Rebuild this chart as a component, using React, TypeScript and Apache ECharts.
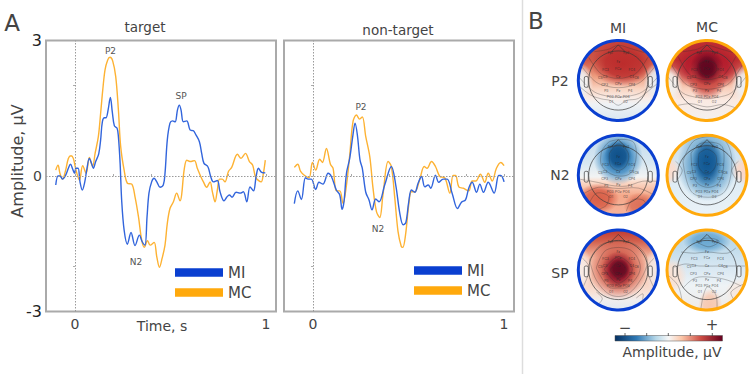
import React, { useEffect, useRef } from "react";
import * as echarts from "echarts";

const FONT = "DejaVu Sans";
const TINY_FONT = "Inter";

const targetMiTime = [-0.101,-0.089,-0.079,-0.065,-0.049,-0.035,-0.024,-0.012,-0.003,0.005,0.016,0.026,0.038,0.051,0.061,0.075,0.087,0.096,0.108,0.124,0.134,0.143,0.154,0.162,0.173,0.185,0.195,0.206,0.22,0.227,0.236,0.244,0.257,0.274,0.293,0.314,0.337,0.351,0.366,0.377,0.387,0.401,0.414,0.428,0.445,0.462,0.471,0.483,0.497,0.51,0.524,0.536,0.546,0.555,0.567,0.585,0.602,0.62,0.633,0.651,0.663,0.675,0.695,0.71,0.724,0.745,0.759,0.78,0.794,0.808,0.822,0.843,0.864,0.881,0.899,0.916,0.934,0.948,0.96,0.977,0.996];
const targetMiValues = [-0.2,0,0,-0.07,0.02,0.17,0.26,0.15,0.06,0.17,0.17,-0.13,-0.31,-0.13,0.13,0.39,0.27,0.17,0.32,0.49,0.8,1.2,1.29,1.29,1.46,1.74,1.42,1.11,1.06,0.87,0.28,-0.53,-1.2,-1.51,-1.25,-1.54,-1.31,-1.45,-1.53,-0.9,-0.38,-0.13,-0.05,-0.13,-0.25,-0.2,0.06,0.8,1.17,1.22,1.2,1.46,1.57,1.46,1.2,1.22,1.02,1,0.91,0.76,0.5,0.28,0.21,-0.01,-0.13,-0.1,-0.35,-0.55,-0.47,-0.42,-0.47,-0.36,-0.38,-0.35,-0.57,-0.24,-0.33,-0.01,0.17,0.08,0.07];
const targetMcTime = [-0.101,-0.089,-0.079,-0.066,-0.049,-0.035,-0.021,-0.009,0.005,0.023,0.04,0.058,0.075,0.092,0.105,0.122,0.134,0.145,0.157,0.171,0.183,0.197,0.213,0.227,0.239,0.257,0.274,0.297,0.314,0.332,0.349,0.363,0.379,0.393,0.414,0.428,0.442,0.456,0.471,0.483,0.497,0.515,0.532,0.55,0.558,0.571,0.585,0.602,0.625,0.64,0.658,0.672,0.689,0.707,0.719,0.733,0.745,0.756,0.77,0.785,0.803,0.82,0.85,0.869,0.892,0.913,0.93,0.946,0.974,0.986,0.996];
const targetMcValues = [0.13,0.24,0.06,-0.07,0.13,0.39,0.45,0.39,0.13,-0.09,0.23,0.06,0.41,0.21,0.5,0.87,1.39,1.9,2.35,2.57,2.63,2.55,2.2,1.46,0.65,0.13,-0.16,-0.18,-0.46,-0.9,-1.42,-1.58,-1.43,-1.53,-1.47,-1.79,-2.02,-1.82,-1.53,-1.05,-0.72,-0.57,-0.38,-0.55,-0.42,0.13,0.35,0.32,0.34,0.17,-0.01,-0.13,-0.25,-0.13,-0.35,-0.57,-0.31,-0.07,-0.07,-0.13,0.1,0.19,0.48,0.39,0.5,0.32,0.24,-0.03,-0.13,0.06,0.35];
const nonTargetMiTime = [-0.098,-0.08,-0.061,-0.04,-0.026,-0.009,0.014,0.031,0.052,0.079,0.096,0.122,0.14,0.152,0.162,0.175,0.192,0.209,0.22,0.232,0.246,0.258,0.276,0.293,0.309,0.328,0.346,0.375,0.41,0.433,0.454,0.472,0.486,0.501,0.515,0.533,0.55,0.568,0.585,0.603,0.616,0.641,0.658,0.681,0.702,0.728,0.756,0.777,0.798,0.815,0.833,0.856,0.873,0.892,0.917,0.948,0.972,0.983,1];
const nonTargetMiValues = [-0.61,-0.33,-0.52,-0.04,-0.07,-0.07,-0.3,-0.14,-0.18,0.06,-0.01,-0.31,-0.42,-0.74,-0.57,0.06,0.39,0.91,1.17,0.91,0.35,0.17,-0.36,-0.53,-0.75,-0.51,-0.57,-0.2,0.21,-0.2,-0.82,-1.08,-1.03,-0.57,-0.31,-0.36,-0.16,-0.01,-0.24,-0.2,-0.27,0.02,-0.14,-0.07,-0.07,-0.38,-0.72,-0.58,-0.53,-0.27,-0.14,-0.36,-0.18,-0.36,-0.14,-0.38,0.01,0.01,-0.13];
const nonTargetMcTime = [-0.098,-0.08,-0.065,-0.044,-0.021,-0.003,0.014,0.035,0.049,0.07,0.091,0.105,0.122,0.14,0.157,0.175,0.192,0.209,0.227,0.244,0.258,0.276,0.297,0.314,0.332,0.349,0.366,0.393,0.41,0.428,0.445,0.462,0.47,0.484,0.501,0.515,0.533,0.559,0.582,0.597,0.62,0.641,0.664,0.69,0.716,0.733,0.746,0.763,0.786,0.815,0.833,0.852,0.876,0.899,0.917,0.938,0.96,0.983,1];
const nonTargetMcValues = [0.19,0.26,0.1,0.01,-0.04,0.3,0.13,0.37,0.3,0.61,0.26,0.17,-0.33,-0.33,-0.61,-0.2,0.46,1.2,1.35,1.26,1.31,0.87,0.43,-0.27,-0.79,-0.92,-0.42,0.32,0.21,-0.49,-1.23,-1.56,-1.58,-1.31,-0.64,-0.35,-0.35,-0.07,0.21,0.17,0.32,0.21,-0.01,-0.04,-0.38,0.01,0.01,-0.24,-0.27,-0.33,-0.11,-0.11,0.04,-0.14,0.06,-0.11,0.17,0.3,0.23];

const xTicks = [0, 0.2, 0.4, 0.6, 0.8, 1];
const xLabels = [0, 1];
const legendNames = ["MI", "MC"];
const MI_LINE = "#3265dc";
const MC_LINE = "#fdb233";
const MI_SWATCH = "#0a3fd0";
const MC_SWATCH = "#ffa90c";

const pairs = (t: number[], v: number[]) => t.map((x, i) => [x, v[i]]);

// Electrode labels on a unit head
const electrodes: [string, number, number][] = [
  ["Fp1",-0.2,-0.7],["Fp2",0.2,-0.7],["Fz",0,-0.46],["FC3",-0.32,-0.27],["FCz",0,-0.29],["FC4",0.34,-0.27],
  ["C5",-0.45,-0.07],["C3",-0.33,-0.09],["Cz",0,-0.09],["C4",0.34,-0.09],["C6",0.46,-0.07],
  ["CP3",-0.34,0.1],["CPz",0,0.09],["CP4",0.34,0.1],["P3",-0.3,0.27],["Pz",0,0.25],["P4",0.3,0.27],
  ["PO3",-0.2,0.41],["POz",0,0.41],["PO4",0.2,0.41],["O1",-0.18,0.54],["O2",0.18,0.54],
];

type Blob = [number, number, number, number, string];
interface TopoMap {
  cx: number; cy: number; ring: string;
  base: [number, string][];
  blobs: Blob[];
  contours: [number, number][][];
}

const vShape = (y: number, w: number, yEnd: number): [number, number][] => [
  [-w, yEnd], [-w * 0.62, y - 0.14], [-w * 0.28, y - 0.03], [0, y], [w * 0.28, y - 0.03], [w * 0.62, y - 0.14], [w, yEnd],
];

const topoMaps: TopoMap[] = [
  { cx: 618.3, cy: 80.5, ring: "#0a3fd0",
    base: [[0,"#c5443a"],[0.25,"#cf5747"],[0.45,"#ee9d7f"],[0.6,"#f9d3c0"],[0.72,"#f9ece6"],[0.8,"#eef2f5"],[1,"#d8e6f1"]],
    blobs: [[0.12,-0.42,0.8,0.58,"#bc2c2c"],[-0.98,0.05,0.36,0.5,"#eef2f5"],[0.98,0.05,0.36,0.5,"#e6eef4"]],
    contours: [vShape(-0.05,0.74,-0.58),vShape(0.18,0.9,-0.33),vShape(0.42,0.98,-0.08),
      [[-1,0.12],[-0.7,0.36],[-0.42,0.46],[-0.2,0.5],[0,0.62],[0.2,0.5],[0.5,0.45],[0.8,0.22],[1,0.06]],
      [[-0.6,-0.72],[-0.25,-0.78],[0,-0.88],[0.3,-0.8],[0.65,-0.7]]] },
  { cx: 707, cy: 80.5, ring: "#ffa90c",
    base: [[0,"#bd2d31"],[0.25,"#c33a35"],[0.48,"#f0a588"],[0.6,"#f8cfbc"],[0.75,"#faeae2"],[1,"#f3f0ee"]],
    blobs: [[0,-0.35,0.95,0.6,"#b2182b"],[0,-0.05,0.5,0.55,"#cc4c44"],[0,-0.33,0.42,0.46,"#7a0c25"],[0,-0.32,0.26,0.3,"#5f0720"],[-0.98,0.1,0.38,0.5,"#f2f2f0"],[0.98,0.1,0.38,0.5,"#eef0f2"]],
    contours: [[[-0.18,-0.42],[0,-0.5],[0.2,-0.42],[0.24,-0.25],[0.05,-0.12],[-0.14,-0.2],[-0.18,-0.42]],
      vShape(-0.02,0.72,-0.6),vShape(0.22,0.88,-0.38),vShape(0.45,0.98,-0.1),
      [[-0.72,0.62],[-0.4,0.58],[0,0.66],[0.4,0.6],[0.7,0.68]],[[-0.6,-0.72],[-0.25,-0.78],[0,-0.88],[0.3,-0.8],[0.65,-0.7]]] },
  { cx: 618.3, cy: 175.3, ring: "#0a3fd0",
    base: [[0,"#c4dbec"],[0.35,"#d8e8f2"],[0.52,"#f2f3f3"],[0.58,"#fbdccb"],[0.75,"#f5a98b"],[1,"#f6b29a"]],
    blobs: [[0,-0.42,0.62,0.66,"#3a87c0"],[0,-0.48,0.34,0.4,"#0f5089"],[-0.5,0.58,0.52,0.38,"#d95f48"],[0.55,0.75,0.42,0.32,"#dd7058"]],
    contours: [[[-0.22,-0.55],[0,-0.78],[0.25,-0.55],[0.2,-0.25],[0,-0.12],[-0.2,-0.25],[-0.22,-0.55]],
      [[-0.42,-0.6],[-0.2,-0.85],[0.35,-0.85],[0.45,-0.5],[0.3,-0.05],[-0.1,0],[-0.42,-0.25],[-0.42,-0.6]],
      [[-0.95,0.1],[-0.5,0.18],[-0.2,0.25],[0.2,0.27],[0.6,0.15],[0.96,0.15]],
      [[-0.9,0.48],[-0.5,0.3],[0,0.33],[0.5,0.32],[0.9,0.5]],
      [[-0.75,0.75],[-0.55,0.45],[-0.25,0.52],[-0.3,0.75],[-0.5,0.85]],
      [[0.2,0.9],[0.35,0.62],[0.62,0.62],[0.72,0.78]]] },
  { cx: 707, cy: 175.3, ring: "#ffa90c",
    base: [[0,"#a9cfe4"],[0.2,"#cfe2ef"],[0.5,"#dcebf4"],[1,"#eaf2f7"]],
    blobs: [[0,-0.25,0.75,0.9,"#5b9cc9"],[0,-0.32,0.38,0.6,"#0f5692"],[-0.98,-0.12,0.32,0.36,"#fbdccd"],[0.95,-0.12,0.34,0.36,"#fbd6c5"]],
    contours: [[[-0.2,-0.55],[0,-0.65],[0.22,-0.5],[0.2,-0.2],[0,-0.03],[-0.2,-0.2],[-0.2,-0.55]],
      [[-0.4,-0.55],[-0.15,-0.8],[0.35,-0.75],[0.42,-0.3],[0.3,0.18],[0,0.3],[-0.3,0.12],[-0.4,-0.55]],
      [[-0.6,-0.35],[-0.3,-0.88],[0.4,-0.9],[0.62,-0.35],[0.4,0.45],[-0.35,0.45],[-0.6,-0.35]],
      [[-0.78,-0.35],[-0.62,-0.12],[-0.75,0.12]],[[0.78,-0.35],[0.62,-0.12],[0.75,0.12]]] },
  { cx: 618.3, cy: 270, ring: "#0a3fd0",
    base: [[0,"#c0392f"],[0.14,"#d2604d"],[0.35,"#f6bca4"],[0.6,"#f8cbb6"],[0.78,"#f8e1d6"],[0.88,"#f0eeee"],[1,"#dfe9f2"]],
    blobs: [[0,-0.02,0.74,0.76,"#d05a4a"],[0,0,0.42,0.46,"#8e1129"],[0.02,-0.02,0.26,0.27,"#650a22"],[-1,0,0.36,0.6,"#f8ede8"],[1,0,0.36,0.6,"#f4e9e6"]],
    contours: [[[-0.2,0],[0,-0.2],[0.2,0],[0,0.2],[-0.2,0]],
      [[-0.35,-0.02],[0,-0.33],[0.35,-0.02],[0,0.33],[-0.35,-0.02]],
      [[-0.55,-0.05],[-0.3,-0.5],[0.3,-0.5],[0.55,-0.05],[0.25,0.42],[0,0.45],[-0.25,0.42],[-0.55,-0.05]],
      [[-0.72,-0.25],[-0.45,-0.62],[0,-0.72],[0.45,-0.62],[0.72,-0.25],[0.55,0.25],[0.2,0.62],[-0.2,0.62],[-0.55,0.25],[-0.72,-0.25]],
      [[-0.55,0.55],[-0.4,0.72],[-0.55,0.9]],[[0.45,0.7],[0.62,0.6],[0.55,0.95]],[[-0.9,-0.3],[-0.72,-0.05],[-0.88,0.42]],[[0.9,-0.3],[0.72,-0.05],[0.88,0.42]]] },
  { cx: 707, cy: 270, ring: "#ffa90c",
    base: [[0,"#b5d5e8"],[0.22,"#c0dbeb"],[0.5,"#dbe9f3"],[0.7,"#eef3f6"],[1,"#f0eae6"]],
    blobs: [[0,-0.72,0.6,0.32,"#6aa8d2"],[0.08,0.88,0.3,0.42,"#f7c8b0"],[-0.9,0.15,0.4,0.45,"#f9e0d2"],[0.85,0.55,0.4,0.35,"#f7e8df"]],
    contours: [[[-0.25,-0.7],[0,-0.8],[0.3,-0.72],[0.05,-0.58],[-0.25,-0.7]],
      [[-0.65,-0.45],[-0.3,-0.42],[0,-0.45],[0.5,-0.42],[0.72,-0.55]],
      [[-0.85,-0.05],[-0.55,-0.15],[-0.2,-0.1],[0.3,-0.1],[0.7,-0.1],[0.95,-0.1]],
      [[-0.6,0.45],[-0.3,0.2],[0.1,0.18],[0.5,0.25],[0.85,0.4]],
      [[-0.15,0.95],[-0.08,0.6],[0.02,0.42],[0.22,0.62],[0.25,0.95]],
      [[-0.62,0.8],[-0.72,0.4],[-0.95,0.15]],[[0.68,0.75],[0.6,0.55],[0.92,0.35]]] },
];

const RADIUS = 41.5;

function renderTopo(params: any) {
  const m = topoMaps[params.dataIndex];
  const r = RADIUS - 1.5;
  const X = (u: number) => m.cx + u * r;
  const Y = (u: number) => m.cy + u * r;
  const children: any[] = [];
  children.push({
    type: "circle", shape: { cx: m.cx, cy: m.cy, r },
    style: { fill: new echarts.graphic.LinearGradient(0, 0, 0, 1, m.base.map(([offset, color]) => ({ offset, color }))) },
  });
  m.blobs.forEach(([bx, by, rx, ry, color]) => {
    const c = echarts.color.modifyAlpha(color, 0);
    children.push({
      type: "ellipse",
      shape: { cx: X(bx), cy: Y(by), rx: rx * r, ry: ry * r },
      style: { fill: new echarts.graphic.RadialGradient(0.5, 0.5, 0.5, [
        { offset: 0, color }, { offset: 0.55, color: echarts.color.modifyAlpha(color, 0.85) }, { offset: 1, color: c },
      ]) },
    });
  });
  m.contours.forEach((pts) => {
    children.push({
      type: "polyline",
      shape: { points: pts.map(([a, b]) => [X(a), Y(b)]), smooth: 0.35 },
      style: { fill: "none", stroke: "rgba(50,50,50,0.5)", lineWidth: 0.6 },
    });
  });
  const hr = 0.74 * r;
  children.push({ type: "circle", shape: { cx: m.cx, cy: m.cy, r: hr }, style: { fill: "none", stroke: "#3a3a3a", lineWidth: 0.7 } });
  children.push({
    type: "polyline",
    shape: { points: [[X(-0.17), Y(-0.72)], [X(0), Y(-0.89)], [X(0.17), Y(-0.72)]] },
    style: { fill: "none", stroke: "#3a3a3a", lineWidth: 0.7 },
  });
  [-1, 1].forEach((s) => {
    children.push({
      type: "rect",
      shape: { x: X(s * 0.8) - 0.05 * r, y: Y(-0.1), width: 0.1 * r, height: 0.27 * r, r: 1.5 },
      style: { fill: "rgba(255,255,255,0.35)", stroke: "#3a3a3a", lineWidth: 0.7 },
    });
  });
  electrodes.forEach(([text, a, b]) => {
    children.push({
      type: "text",
      style: { text, x: X(a), y: Y(b), fontSize: 3.4, fontFamily: TINY_FONT, fill: "rgba(40,40,40,0.8)", align: "center", verticalAlign: "middle" },
    });
  });
  return {
    type: "group",
    children: [
      { type: "group", clipPath: { type: "circle", shape: { cx: m.cx, cy: m.cy, r } }, children },
      { type: "circle", shape: { cx: m.cx, cy: m.cy, r: RADIUS - 1.5 }, style: { fill: "none", stroke: m.ring, lineWidth: 3 } },
    ],
  };
}

const txt = (text: string, x: number, y: number, fontSize: number, extra: any = {}) => ({
  type: "text",
  x,
  y,
  rotation: extra.rotation || 0,
  style: { text, x: 0, y: 0, fontSize, fontFamily: FONT, fill: extra.fill || "#444", align: "center", verticalAlign: "middle", fontWeight: extra.fontWeight || "normal" },
});

const lineSeries = (name: string, idx: number, data: number[][], color: string, guides: boolean) => ({
  type: "line",
  name,
  xAxisIndex: idx,
  yAxisIndex: idx,
  data,
  smooth: 0.35,
  showSymbol: false,
  symbol: "none",
  z: name === "MI" ? 4 : 3,
  lineStyle: { color, width: 1.4 },
  itemStyle: { color },
  markLine: guides ? {
    silent: true,
    symbol: "none",
    label: { show: false },
    lineStyle: { color: "#9a9a9a", type: [1.5, 1.5], width: 1 },
    data: [{ xAxis: 0 }, { yAxis: 0 }],
  } : undefined,
});

const legendOf = (left: number, top: number) => ({
  left, top, orient: "vertical", icon: "rect", itemWidth: 48, itemHeight: 8.5, itemGap: 5, selectedMode: false,
  textStyle: { fontFamily: FONT, fontSize: 15, color: "#444", padding: [0, 0, 0, 0] },
  data: [{ name: legendNames[0], itemStyle: { color: MI_SWATCH } }, { name: legendNames[1], itemStyle: { color: MC_SWATCH } }],
});

const xAxisOf = (gridIndex: number) => ({
  gridIndex, type: "value", min: -0.152, max: 1.052,
  splitLine: { show: false }, axisLine: { show: false },
  axisTick: { show: true, inside: true, length: 2, customValues: xTicks, lineStyle: { color: "#aaa" } },
  axisLabel: { show: true, customValues: xLabels, color: "#444", fontFamily: FONT, fontSize: 14, margin: 5 },
});

const yAxisOf = (gridIndex: number, labels: boolean) => ({
  gridIndex, type: "value", min: -3, max: 3, interval: 1,
  splitLine: { show: false }, axisLine: { show: false },
  axisTick: { show: true, length: 2, lineStyle: { color: "#aaa" } },
  axisLabel: {
    show: labels, margin: 4, color: "#333", fontFamily: FONT,
    formatter: (v: number) => (v === 3 ? "{b|3}" : v === -3 ? "{b|-3}" : v === 0 ? "{n|0}" : ""),
    rich: { b: { fontSize: 16, fontFamily: FONT, color: "#222" }, n: { fontSize: 14, fontFamily: FONT, color: "#444" } },
  },
});

export default function App() {
  const ref = useRef<HTMLDivElement>(null);
  useEffect(() => {
    document.body.style.margin = "0";
    const chart = echarts.init(ref.current!, null, { renderer: "svg" });
    chart.setOption({
      animation: false,
      backgroundColor: "#fff",
      grid: [
        { left: 46, top: 40.5, width: 230, height: 271, show: true, borderColor: "#aaa", borderWidth: 2, backgroundColor: "#fff" },
        { left: 284, top: 40.5, width: 230, height: 271, show: true, borderColor: "#aaa", borderWidth: 2, backgroundColor: "#fff" },
      ],
      xAxis: [xAxisOf(0), xAxisOf(1)],
      yAxis: [yAxisOf(0, true), yAxisOf(1, false)],
      legend: [legendOf(170, 260), legendOf(409, 258)],
      series: [
        lineSeries("MC", 0, pairs(targetMcTime, targetMcValues), MC_LINE, true),
        lineSeries("MI", 0, pairs(targetMiTime, targetMiValues), MI_LINE, false),
        lineSeries("MC", 1, pairs(nonTargetMcTime, nonTargetMcValues), MC_LINE, true),
        lineSeries("MI", 1, pairs(nonTargetMiTime, nonTargetMiValues), MI_LINE, false),
        { type: "custom", coordinateSystem: "none", silent: true, data: topoMaps.map((_, i) => i), renderItem: renderTopo, clip: false, z: 5 },
      ],
      graphic: [
        { type: "line", shape: { x1: 522.5, y1: 0, x2: 522.5, y2: 374 }, style: { stroke: "#ddd", lineWidth: 1.5 } },
        txt("A", 12, 23, 23),
        txt("B", 536, 21, 23),
        txt("target", 145, 27, 13.5),
        txt("non-target", 398, 30, 13.5),
        txt("Time, s", 162, 326, 14),
        txt("Amplitude, µV", 17, 161, 16, { rotation: Math.PI / 2 }),
        txt("P2", 110.5, 51, 9, { fill: "#555" }),
        txt("SP", 181, 96, 9, { fill: "#555" }),
        txt("N2", 136, 262, 9, { fill: "#555" }),
        txt("P2", 361, 107, 9, { fill: "#555" }),
        txt("N2", 378, 229, 9, { fill: "#555" }),
        txt("MI", 618, 28, 14),
        txt("MC", 707, 27, 14),
        txt("P2", 560, 81, 14),
        txt("N2", 560, 175, 14),
        txt("SP", 560, 273, 14),
        {
          type: "rect", shape: { x: 615, y: 335.5, width: 107.5, height: 5.5 },
          style: { fill: new echarts.graphic.LinearGradient(0, 0, 1, 0, [
            { offset: 0, color: "#053061" }, { offset: 0.2, color: "#2f79b5" }, { offset: 0.38, color: "#b5d7e8" },
            { offset: 0.5, color: "#f7f7f7" }, { offset: 0.62, color: "#fbc6a8" }, { offset: 0.8, color: "#cc4c44" }, { offset: 1, color: "#67001f" },
          ]), stroke: "#555", lineWidth: 0.5 },
        },
        ...[625, 646.7, 668.3, 690.3, 712.3].map((x) => ({
          type: "line", shape: { x1: x, y1: 333, x2: x, y2: 336 }, style: { stroke: "#444", lineWidth: 0.8 },
        })),
        txt("−", 625, 328, 15),
        txt("+", 712, 325, 15),
        txt("Amplitude, µV", 672, 352, 14),
      ],
    });
    return () => chart.dispose();
  }, []);
  return <div ref={ref} style={{ width: 756, height: 374 }} />;
}
